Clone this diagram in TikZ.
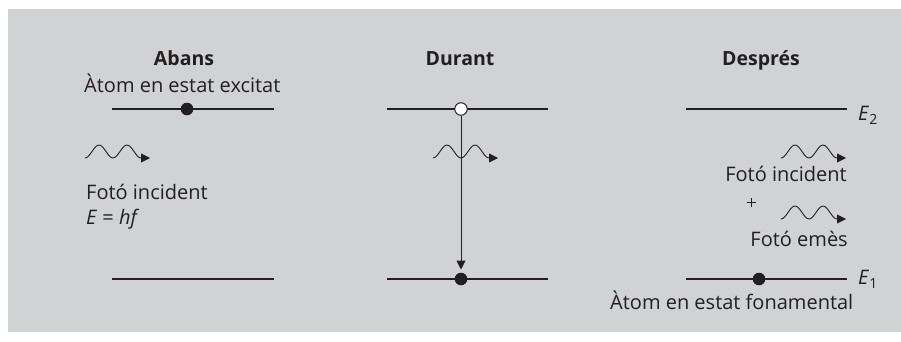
\documentclass[tikz,border=0pt]{standalone}
\usepackage{fontspec}
\setmainfont{Open Sans}
\usetikzlibrary{arrows.meta}
\definecolor{panel}{HTML}{D1D2D4}
\definecolor{ink}{HTML}{231F20}
\begin{document}
\begin{tikzpicture}[x=1pt,y=-1pt,
  txt/.style={inner sep=0pt, text=ink, font=\fontsize{20}{22}\selectfont},
  head/.style={txt, font=\fontsize{19.5}{22}\selectfont\bfseries},
  level/.style={draw=ink, line width=1.1pt},
  full/.style={circle, fill=ink, inner sep=0pt, minimum size=12.6pt},
  hollow/.style={circle, draw=ink, fill=white, line width=1pt, inner sep=0pt, minimum size=12.5pt},
  decay/.style={draw=ink, line width=1pt, -{Triangle[length=9pt,width=9pt]}, shorten >=3pt},
  photon/.pic={\draw[ink, line width=0.9pt, -{Triangle[length=9pt,width=9pt]}]
    (0,0) cos (7,-6.5) sin (14,-13) cos (21,-6.5) sin (28,0)
    cos (35,-6.5) sin (42,-13) cos (49,-6.5) sin (56,0) -- (65,0);}
]
\useasboundingbox (0,0) rectangle (901,342);
\fill[panel] (8,9) rectangle (901,332);

% --- Abans ---
\node[head, anchor=base] (tA) at (184,66) {Abans};
\node[txt, anchor=base west] (exc) at (84,93) {Àtom en estat excitat};
\coordinate (a2l) at (112,109); \coordinate (a2r) at (274,109);
\coordinate (a1l) at (112,279); \coordinate (a1r) at (274,279);
\draw[level] (a2l) -- (a2r);
\draw[level] (a1l) -- (a1r);
\node[full] (aDot) at (187,109) {};
\pic (wA) at (85,158) {photon};
\node[txt, anchor=base west] (fiA) at (86,199) {Fotó incident};
\node[txt, anchor=base west] (eq) at (86,224) {\textit{E} = \textit{hf}};

% --- Durant ---
\node[head, anchor=base] (tD) at (460,66) {Durant};
\coordinate (d2l) at (387,109); \coordinate (d2r) at (548,109);
\coordinate (d1l) at (387,279); \coordinate (d1r) at (548,279);
\draw[level] (d2l) -- (d2r);
\draw[level] (d1l) -- (d1r);
\node[hollow] (hole) at (461,109) {};
\node[full] (dropped) at (461,279) {};
\draw[decay] (hole) -- (dropped);
\pic (wD) at (433,158) {photon};

% --- Després ---
\node[head, anchor=base] (tP) at (761,66) {Després};
\coordinate (p2l) at (686,109); \coordinate (p2r) at (847,109);
\coordinate (p1l) at (686,279); \coordinate (p1r) at (847,279);
\draw[level] (p2l) -- (p2r);
\draw[level] (p1l) -- (p1r);
\node[txt, anchor=base west] (E2) at (858,121) {\textit{E}\raisebox{-4pt}{\fontsize{14}{14}\selectfont 2}};
\pic (wP1) at (781,158) {photon};
\node[txt, anchor=base east] (fiP) at (847,181) {Fotó incident};
\node[inner sep=0pt] (plus) at (751,202) {};
\draw[ink, line width=0.7pt] ([xshift=-4.5pt]plus.center) -- ([xshift=4.5pt]plus.center)
  ([yshift=-4.5pt]plus.center) -- ([yshift=4.5pt]plus.center);
\pic (wP2) at (781,219) {photon};
\node[txt, anchor=base east] (fe) at (848,246) {Fotó emès};
\node[full] (pDot) at (759,279) {};
\node[txt, anchor=base west] (E1) at (858,284) {\textit{E}\raisebox{-4pt}{\fontsize{14}{14}\selectfont 1}};
\node[txt, anchor=base west] (fon) at (610,309) {Àtom en estat fonamental};
\end{tikzpicture}
\end{document}
